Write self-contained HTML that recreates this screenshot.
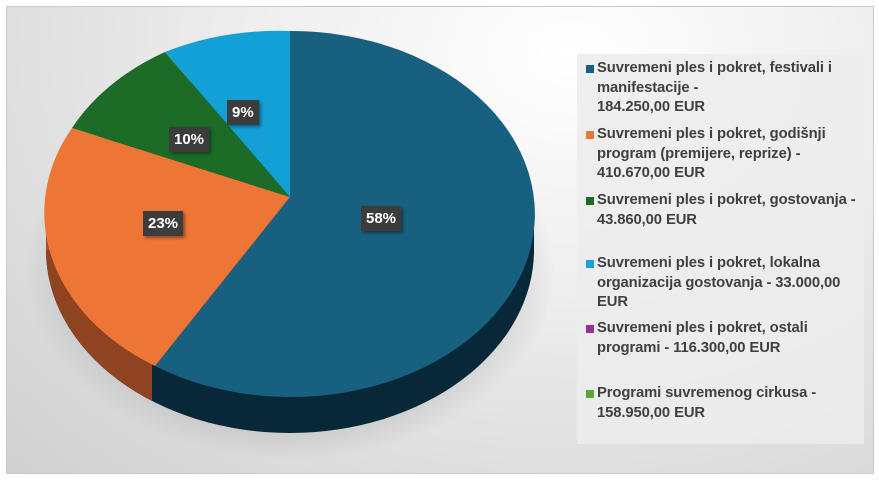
<!DOCTYPE html>
<html><head><meta charset="utf-8"><style>
body{margin:0;width:879px;height:480px;background:#fff;overflow:hidden;font-family:"Liberation Sans",sans-serif}
#f{position:absolute;left:6px;top:6px;width:866px;height:466px;border:1px solid #c8c8c8;background:radial-gradient(ellipse at 65% 10%,#ffffff 0%,#eeeeee 40%,#d0d0d0 100%)}
.lg{position:absolute;left:577px;top:54px;width:287px;height:390px;background:rgba(236,236,236,0.85)}
.it{position:absolute;left:20px;width:268px;font-size:14.8px;font-weight:bold;color:#404040;line-height:19.5px;letter-spacing:-0.1px}
.it i{position:absolute;left:-11px;top:6px;width:8px;height:8px}
.lb{position:absolute;background:#3c3c3c;color:#fff;font-weight:bold;font-size:15px;padding:4px 5px;box-shadow:2px 2px 3px rgba(0,0,0,.4)}
</style></head><body>
<div id="f"></div>
<svg width="879" height="480" style="position:absolute;left:0;top:0">
<defs>
<radialGradient id="sh" cx="50%" cy="50%" r="50%"><stop offset="0.7" stop-color="#999" stop-opacity=".5"/><stop offset="1" stop-color="#999" stop-opacity="0"/></radialGradient>
<clipPath id="cl"><rect x="0" y="0" width="152" height="480"/></clipPath>
</defs>
<ellipse cx="290" cy="270" rx="265" ry="190" fill="url(#sh)"/>
<g>
<ellipse cx="290" cy="250" rx="244" ry="183" fill="#082838"/>
<rect x="46" y="214" width="488" height="36" fill="#082838"/>
<g clip-path="url(#cl)"><ellipse cx="290" cy="250" rx="244" ry="183" fill="#8e4420"/><rect x="46" y="214" width="110" height="36" fill="#a85026"/></g>
</g>
<path d="M290,197 L290,31 A244,183 0 1 1 155,366 Z" fill="#186080"/>
<path d="M290,197 L155,366 A244,183 0 0 1 72,128 Z" fill="#ed7636"/>
<path d="M290,197 L72,128 A244,183 0 0 1 165,52 Z" fill="#1c6c28"/>
<path d="M290,197 L165,52 A244,183 0 0 1 290,31 Z" fill="#12a0d6"/>
</svg>
<div class="lb" style="left:361px;top:206px">58%</div>
<div class="lb" style="left:143px;top:211px">23%</div>
<div class="lb" style="left:169px;top:127px">10%</div>
<div class="lb" style="left:227px;top:100px">9%</div>
<div class="lg">
<div class="it" style="top:5px"><i style="background:#186080"></i>Suvremeni ples i pokret, festivali i manifestacije -<br>184.250,00 EUR</div>
<div class="it" style="top:71px"><i style="background:#ed7636"></i>Suvremeni ples i pokret, godišnji program (premijere, reprize) - 410.670,00 EUR</div>
<div class="it" style="top:137px"><i style="background:#1c6c28"></i>Suvremeni ples i pokret, gostovanja - 43.860,00 EUR</div>
<div class="it" style="top:200px"><i style="background:#12a0d6"></i>Suvremeni ples i pokret, lokalna organizacija gostovanja - 33.000,00 EUR</div>
<div class="it" style="top:265px"><i style="background:#9c2f96"></i>Suvremeni ples i pokret, ostali programi - 116.300,00 EUR</div>
<div class="it" style="top:330px"><i style="background:#52a838"></i>Programi suvremenog cirkusa - 158.950,00 EUR</div>
</div>
</body></html>
